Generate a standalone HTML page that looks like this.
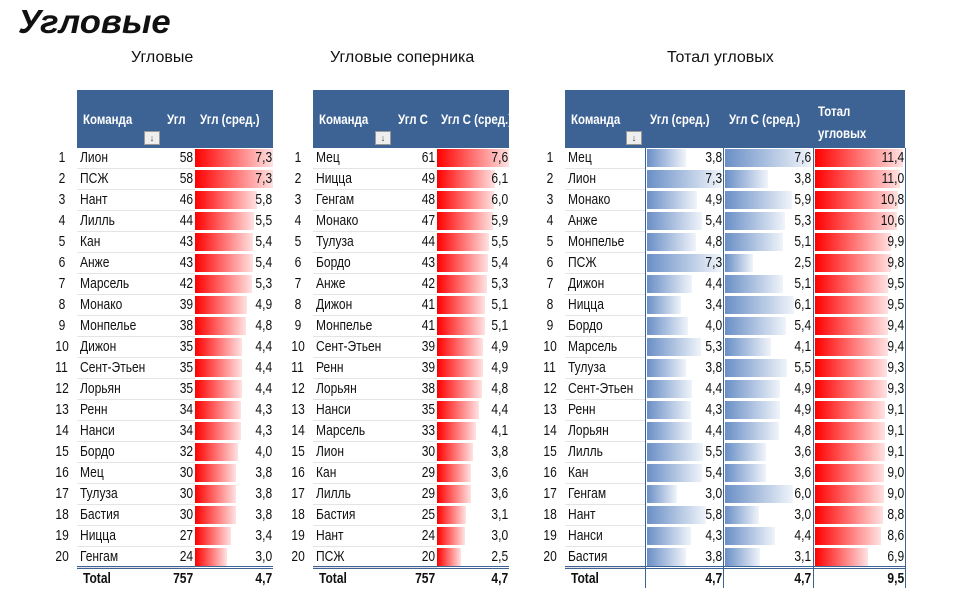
<!DOCTYPE html>
<html><head><meta charset="utf-8"><style>
body{margin:0;width:960px;height:588px;background:#fff;overflow:hidden;position:relative;font-family:"Liberation Sans","DejaVu Sans",sans-serif;color:#111}
.a{position:absolute;white-space:nowrap}
.h{position:absolute;background:#3d6294;top:90px;height:58px}
.ht{position:absolute;color:#fff;font-weight:bold;font-size:14px;transform:scaleX(.82);transform-origin:left;white-space:nowrap}
.sb{position:absolute;width:14px;height:12px;border:1px solid #999;background:#eee;font-size:9px;line-height:12px;text-align:center;color:#444;top:131px}
.c{position:absolute;font-size:14.5px;height:21px;line-height:21px;white-space:nowrap}
.c span{display:inline-block;transform:scaleX(.83)}
.L span{transform-origin:left}.R span{transform-origin:right}.C span{transform-origin:center}
.bar{position:absolute;height:18px}
.r{background:linear-gradient(to right,#ff0000,#ffe2e2)}
.b{background:linear-gradient(to right,#6a8fc6,#f0f4fa)}
.sep{position:absolute;height:1px;background:#e4e4e4}
.dl{position:absolute;height:1px;background:#3d6294}
.vl{position:absolute;width:1px;background:#3d6294}
</style></head><body>
<div class="a" style="left:18px;top:3px;font-size:33px;font-weight:bold;font-style:italic;transform:scaleX(1.05);transform-origin:left">Угловые</div>
<div class="a" style="left:131px;top:49px;font-size:16px">Угловые</div>
<div class="a" style="left:330px;top:49px;font-size:16px">Угловые соперника</div>
<div class="a" style="left:667px;top:49px;font-size:16px">Тотал угловых</div>

<div class="h" style="left:77px;width:196px"></div>
<div class="ht" style="left:83px;top:111px">Команда</div><div class="ht" style="left:167px;top:111px">Угл</div><div class="ht" style="left:200px;top:111px">Угл (сред.)</div>
<div class="sb" style="left:144px">↓</div>
<div class="h" style="left:313px;width:196px"></div>
<div class="ht" style="left:319px;top:111px">Команда</div><div class="ht" style="left:398px;top:111px">Угл С</div><div class="ht" style="left:441px;top:111px">Угл С (сред.)</div>
<div class="sb" style="left:375px">↓</div>
<div class="h" style="left:565px;width:340px"></div>
<div class="ht" style="left:571px;top:111px">Команда</div><div class="ht" style="left:650px;top:111px">Угл (сред.)</div><div class="ht" style="left:729px;top:111px">Угл С (сред.)</div><div class="ht" style="left:818px;top:100px;line-height:22px">Тотал<br>угловых</div>
<div class="sb" style="left:626px">↓</div>
<div id="root"></div>
<script>
var t1=[["Лион",58,7.3],["ПСЖ",58,7.3],["Нант",46,5.8],["Лилль",44,5.5],["Кан",43,5.4],["Анже",43,5.4],["Марсель",42,5.3],["Монако",39,4.9],["Монпелье",38,4.8],["Дижон",35,4.4],["Сент-Этьен",35,4.4],["Лорьян",35,4.4],["Ренн",34,4.3],["Нанси",34,4.3],["Бордо",32,4.0],["Мец",30,3.8],["Тулуза",30,3.8],["Бастия",30,3.8],["Ницца",27,3.4],["Генгам",24,3.0]];
var t2=[["Мец",61,7.6],["Ницца",49,6.1],["Генгам",48,6.0],["Монако",47,5.9],["Тулуза",44,5.5],["Бордо",43,5.4],["Анже",42,5.3],["Дижон",41,5.1],["Монпелье",41,5.1],["Сент-Этьен",39,4.9],["Ренн",39,4.9],["Лорьян",38,4.8],["Нанси",35,4.4],["Марсель",33,4.1],["Лион",30,3.8],["Кан",29,3.6],["Лилль",29,3.6],["Бастия",25,3.1],["Нант",24,3.0],["ПСЖ",20,2.5]];
var t3=[["Мец",3.8,7.6,11.4],["Лион",7.3,3.8,11.0],["Монако",4.9,5.9,10.8],["Анже",5.4,5.3,10.6],["Монпелье",4.8,5.1,9.9],["ПСЖ",7.3,2.5,9.8],["Дижон",4.4,5.1,9.5],["Ницца",3.4,6.1,9.5],["Бордо",4.0,5.4,9.4],["Марсель",5.3,4.1,9.4],["Тулуза",3.8,5.5,9.3],["Сент-Этьен",4.4,4.9,9.3],["Ренн",4.3,4.9,9.1],["Лорьян",4.4,4.8,9.1],["Лилль",5.5,3.6,9.1],["Кан",5.4,3.6,9.0],["Генгам",3.0,6.0,9.0],["Нант",5.8,3.0,8.8],["Нанси",4.3,4.4,8.6],["Бастия",3.8,3.1,6.9]];
var h="";function f(v){return v.toFixed(1).replace(".",",")}
function cell(x,y,w,txt,al,b){var k=al=="left"?"L":al=="right"?"R":"C";h+='<div class="c '+k+'" style="left:'+x+'px;top:'+y+'px;width:'+w+'px;text-align:'+al+(b?';font-weight:bold':'')+'"><span>'+txt+'</span></div>'}
function bar(x,y,w,c){h+='<div class="bar '+c+'" style="left:'+x+'px;top:'+(y+1)+'px;width:'+w+'px"></div>'}
for(var i=0;i<20;i++){var y=148+i*21;
cell(52,y,20,(i+1),"center");cell(288,y,20,(i+1),"center");cell(540,y,20,(i+1),"center");
var r=t1[i];cell(80,y,80,r[0],"left");cell(160,y,33,r[1],"right");bar(195,y,Math.round(r[2]/7.3*78),"r");cell(195,y,77,f(r[2]),"right");
h+='<div class="sep" style="left:77px;width:118px;top:'+(y+20)+'px"></div>';
r=t2[i];cell(316,y,80,r[0],"left");cell(396,y,39,r[1],"right");bar(437,y,Math.round(r[2]/7.6*72),"r");cell(437,y,71,f(r[2]),"right");
h+='<div class="sep" style="left:313px;width:124px;top:'+(y+20)+'px"></div>';
r=t3[i];cell(568,y,80,r[0],"left");bar(647,y,Math.round(r[1]/7.3*74),"b");cell(647,y,75,f(r[1]),"right");
bar(725,y,Math.round(r[2]/7.6*86),"b");cell(725,y,86,f(r[2]),"right");
bar(815,y,Math.round(r[3]/11.4*88),"r");cell(815,y,89,f(r[3]),"right");
h+='<div class="sep" style="left:565px;width:80px;top:'+(y+20)+'px"></div>';}
var ty=569;
cell(83,ty,60,"Total","left",1);cell(160,ty,33,"757","right",1);cell(195,ty,77,"4,7","right",1);
cell(319,ty,60,"Total","left",1);cell(396,ty,39,"757","right",1);cell(437,ty,71,"4,7","right",1);
cell(571,ty,60,"Total","left",1);cell(647,ty,75,"4,7","right",1);cell(725,ty,86,"4,7","right",1);cell(815,ty,89,"9,5","right",1);
[[77,196],[313,196],[565,340]].forEach(function(p){h+='<div class="dl" style="left:'+p[0]+'px;width:'+p[1]+'px;top:566px"></div><div class="dl" style="left:'+p[0]+'px;width:'+p[1]+'px;top:568px"></div>'});
[645,723,813,905].forEach(function(x){h+='<div class="vl" style="left:'+x+'px;top:148px;height:440px"></div>'});
document.getElementById("root").innerHTML=h;
</script>
</body></html>
